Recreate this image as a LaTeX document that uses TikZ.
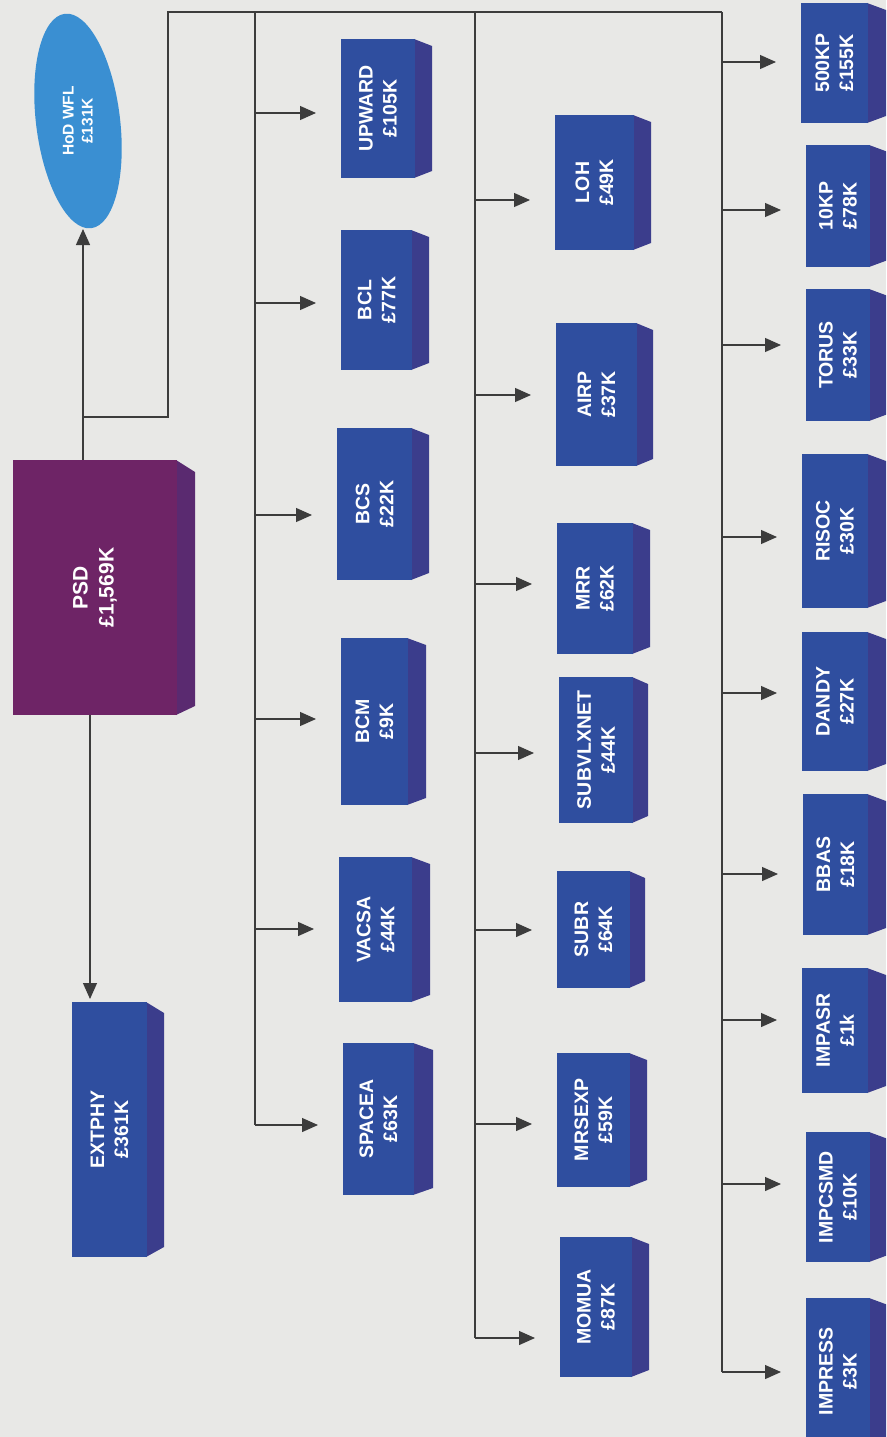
\documentclass[tikz,border=0pt]{standalone}
\usepackage{fontspec}
\setmainfont{Liberation Sans}
\usetikzlibrary{arrows.meta}
\definecolor{bgc}{HTML}{E8E8E6}
\definecolor{frontc}{HTML}{2F4E9F}
\definecolor{sidec}{HTML}{3B3D8C}
\definecolor{psdc}{HTML}{6E2466}
\definecolor{psdside}{HTML}{5A2A70}
\definecolor{hodc}{HTML}{3A8FD2}
\definecolor{linec}{HTML}{3C3C3C}
\tikzset{
  boxfront/.style={fill=frontc, draw=none, inner sep=0pt, outer sep=0pt},
  boxside/.style={fill=sidec},
  lbl/.style={rotate=90, text=white, align=center, font=\fontsize{19.5}{24}\selectfont\bfseries},
  conn/.style={draw=linec, line width=1.2pt},
  tip/.style={-{Triangle[length=16pt,width=14pt]}},
  arr/.style={conn, tip, shorten >=25pt},
}
% name, x1, y1, x2 (front right), y2, depth, lineX, arrowY, text
\newcommand\pbox[9]{%
  \fill[boxside] (#4-1,#3) -- (#4+#6,#3+7) -- (#4+#6,#5-7) -- (#4-1,#5) -- cycle;
  \node[boxfront, minimum width={(#4-#2)*1pt}, minimum height={(#5-#3)*1pt}] (#1) at ({(#2+#4)/2},{(#3+#5)/2}) {};
  \node[lbl] (#1-t) at (#1.center) {#9};
  \coordinate (#1-in) at (#7,#8);
  \draw[arr] (#1-in) -- (#1.west |- #1-in);
}
\begin{document}
\begin{tikzpicture}[x=1pt,y=-1pt]
\useasboundingbox (0,0) rectangle (886,1437);
\clip (0,0) rectangle (886,1437);
\fill[bgc] (0,0) rectangle (886,1437);

% trunk lines
\coordinate (j0) at (83,417);
\coordinate (j1) at (168,12);
\coordinate (tA) at (255,12);
\coordinate (tB) at (475,12);
\coordinate (tC) at (722,12);
\draw[conn] (j0) -| (j1) -- (tC);
\draw[conn] (tA) -- (255,1125);
\draw[conn] (tB) -- (475,1338);
\draw[conn] (tC) -- (722,1372);

% PSD
\fill[psdside] (176,460) -- (195,472) -- (195,706) -- (176,715) -- cycle;
\node[fill=psdc, inner sep=0pt, minimum width=164pt, minimum height=255pt] (psd) at (95,587.5) {};
\node[lbl, font=\fontsize{21}{26}\selectfont\bfseries] (psd-t) at (psd.center) {PSD\\£1,569K};

% HoD WFL
\fill[hodc, rotate around={7:(78,121)}] (78,121) ellipse [x radius=42, y radius=108];
\node[lbl, font=\fontsize{15.5}{19}\selectfont\bfseries] (hod) at (78,121) {HoD WFL\\£131K};
\coordinate (hodtip) at (83,229);
\draw[conn, tip] (psd.north -| hodtip) -- (hodtip);

% EXTPHY
\fill[boxside] (146,1002) -- (164,1013) -- (164,1247) -- (146,1257) -- cycle;
\node[boxfront, minimum width=75pt, minimum height=255pt] (extphy) at (109.5,1129.5) {};
\node[lbl] (extphy-t) at (extphy.center) {EXTPHY\\£361K};
\coordinate (ex) at (90,0);
\draw[conn, tip, shorten >=3pt] (psd.south -| ex) -- (extphy.north -| ex);

% column 1
\pbox{upward}{341}{39}{415}{178}{17}{255}{113}{UPWARD\\£105K}
\pbox{bcl}{341}{230}{412}{370}{17}{255}{303}{BCL\\£77K}
\pbox{bcs}{337}{428}{412}{580}{17}{255}{515}{BCS\\£22K}
\pbox{bcm}{341}{638}{408}{805}{18}{255}{719}{BCM\\£9K}
\pbox{vacsa}{339}{857}{412}{1002}{18}{255}{929}{VACSA\\£44K}
\pbox{spacea}{343}{1043}{414}{1195}{19}{255}{1125}{SPACEA\\£63K}

% column 2
\pbox{loh}{555}{115}{634}{250}{17}{475}{200}{LOH\\£49K}
\pbox{airp}{556}{323}{637}{466}{16}{475}{395}{AIRP\\£37K}
\pbox{mrr}{557}{523}{633}{654}{17}{475}{584}{MRR\\£62K}
\pbox{subvlxnet}{559}{677}{633}{823}{15}{475}{753}{SUBVLXNET\\£44K}
\pbox{subr}{557}{871}{630}{988}{15}{475}{930}{SUBR\\£64K}
\pbox{mrsexp}{557}{1053}{630}{1187}{17}{475}{1124}{MRSEXP\\£59K}
\pbox{momua}{560}{1237}{632}{1377}{17}{475}{1338}{MOMUA\\£87K}

% column 3
\pbox{kpa}{801}{3}{868}{123}{18}{722}{62}{500KP\\£155K}
\pbox{kpb}{806}{145}{870}{267}{18}{722}{210}{10KP\\£78K}
\pbox{torus}{806}{289}{870}{421}{18}{722}{345}{TORUS\\£33K}
\pbox{risoc}{802}{454}{868}{608}{18}{722}{537}{RISOC\\£30K}
\pbox{dandy}{802}{632}{868}{771}{18}{722}{693}{DANDY\\£27K}
\pbox{bbas}{803}{794}{868}{935}{18}{722}{874}{BBAS\\£18K}
\pbox{impasr}{802}{968}{868}{1093}{18}{722}{1020}{IMPASR\\£1k}
\pbox{impcsmd}{806}{1132}{870}{1262}{18}{722}{1184}{IMPCSMD\\£10K}
\pbox{impress}{806}{1298}{870}{1445}{18}{722}{1372}{IMPRESS\\£3K}
\end{tikzpicture}
\end{document}
